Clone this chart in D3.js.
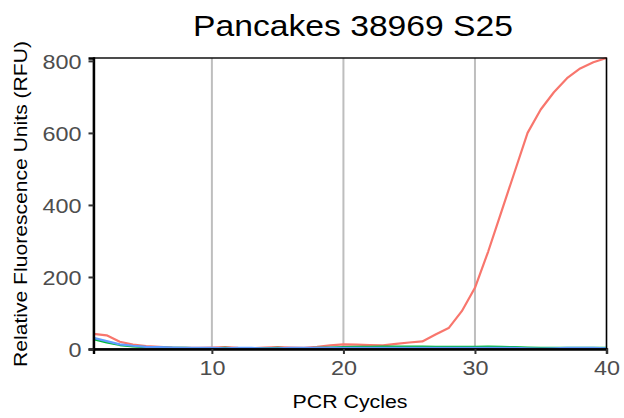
<!DOCTYPE html>
<html><head><meta charset="utf-8">
<script src="https://cdn.jsdelivr.net/npm/d3@7"></script>
<style>body{margin:0;background:#fff}svg{display:block}</style>
</head><body>
<svg id="c" width="624" height="418"></svg>
<script>
const cycles = d3.range(1, 41);
const redValues = [42,38,20,12,8,6,4,3,3,4,5,3,2,4,5,4,3,6,10,13,12,11,10,14,18,21,40,58,105,170,270,380,490,600,665,713,752,779,796,808];
const greenValues = [27,18,11,7,5,4,3,3,2,2,3,2,2,2,3,2,2,3,4,5,6,6,7,7,7,7,6,6,6,6,7,6,5,4,3,3,3,3,3,3];
const blueValues = [31,22,13,9,6,5,4,3,3,3,2,3,3,2,2,3,3,3,3,3,3,3,3,3,3,3,3,3,3,3,3,3,3,2,1,2,3,3,3,2];
const seriesNames = ["A","B","C"];
const seriesColors = ["#F8766D","#00BA38","#619CFF"];
const xTicks = [10,20,30,40];
const yTicks = [0,200,400,600,800];

const FONT = "Liberation Sans, Arial, sans-serif";
const svg = d3.select("#c");
const L=93.5, R=606.5, T=58, B=349;
const x = d3.scaleLinear().domain([1,40]).range([L,R]);
const y = d3.scaleLinear().domain([0,d3.max(redValues)]).range([B,T]);

// grid
svg.append("g").selectAll("line").data(xTicks).join("line")
  .attr("x1",d=>x(d)).attr("x2",d=>x(d)).attr("y1",T).attr("y2",B)
  .attr("stroke","#BEBEBE").attr("stroke-width",2);

const all = [redValues, greenValues, blueValues];
const line = d3.line().x((d,i)=>x(cycles[i])).y(d=>y(d));
svg.append("g").selectAll("path").data(all).join("path")
  .attr("d",d=>line(d)).attr("fill","none")
  .attr("stroke",(d,i)=>seriesColors[i]).attr("stroke-width",2.2)
  .attr("stroke-linejoin","round");

// border
svg.append("rect").attr("x",L).attr("y",T).attr("width",R-L).attr("height",B-T)
  .attr("fill","none").attr("stroke","#000").attr("stroke-width",1.4);

// axes
const xa = svg.append("g").attr("transform",`translate(0,${B})`)
  .call(d3.axisBottom(x).tickValues(xTicks).tickSize(5).tickPadding(7));
const ya = svg.append("g").attr("transform",`translate(${L},0)`)
  .call(d3.axisLeft(y).tickValues(yTicks).tickSize(5).tickPadding(7));
[xa,ya].forEach(a=>{
  a.select(".domain").attr("stroke","#000").attr("stroke-width",2.4);
  a.selectAll(".tick line").attr("stroke","#333").attr("stroke-width",2);
  a.selectAll(".tick text").attr("fill","#4D4D4D")
   .style("font-family",FONT).style("font-size","20px")
   .attr("textLength",d=>String(d).length*13).attr("lengthAdjust","spacingAndGlyphs");
});
ya.selectAll(".tick text").attr("dy","0.36em");

svg.append("text").attr("x",353).attr("y",36).attr("text-anchor","middle")
  .style("font-family",FONT).style("font-size","29px")
  .attr("textLength",320).attr("lengthAdjust","spacingAndGlyphs")
  .attr("fill","#000").text("Pancakes 38969 S25");
svg.append("text").attr("x",350).attr("y",408).attr("text-anchor","middle")
  .style("font-family",FONT).style("font-size","18px")
  .attr("textLength",115).attr("lengthAdjust","spacingAndGlyphs")
  .attr("fill","#000").text("PCR Cycles");
svg.append("text").attr("transform","translate(27,204) rotate(-90)").attr("text-anchor","middle")
  .style("font-family",FONT).style("font-size","18.5px")
  .attr("textLength",326).attr("lengthAdjust","spacingAndGlyphs")
  .attr("fill","#000").text("Relative Fluorescence Units (RFU)");
</script>
</body></html>
